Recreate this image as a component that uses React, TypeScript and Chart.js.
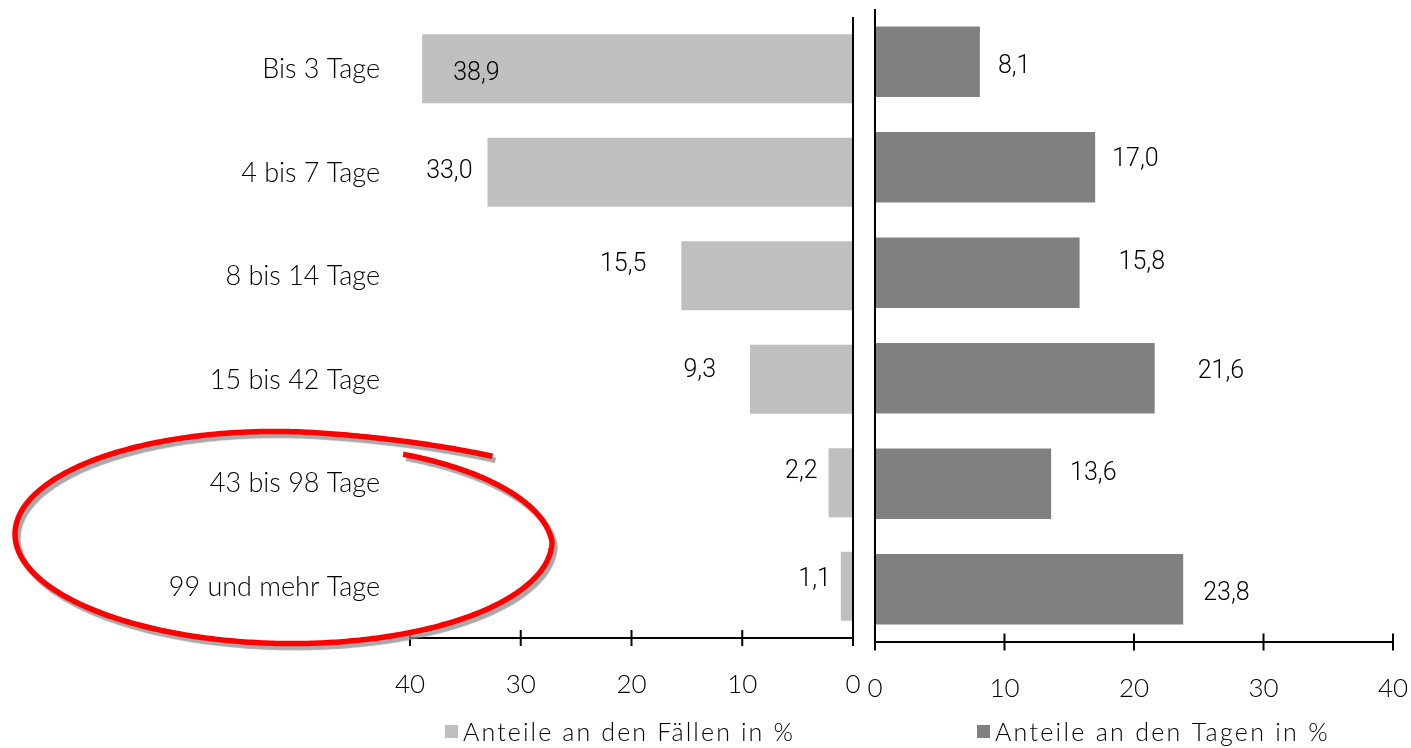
import { useEffect, useRef } from 'react';
import { Chart, registerables } from 'chart.js';

Chart.register(...registerables);

// Dauer der Arbeitsunfähigkeit
const categories = [
  'Bis 3 Tage',
  '4 bis 7 Tage',
  '8 bis 14 Tage',
  '15 bis 42 Tage',
  '43 bis 98 Tage',
  '99 und mehr Tage',
];
// Anteile an den Fällen in %
const faelleShare = [38.9, 33.0, 15.5, 9.3, 2.2, 1.1];
// Anteile an den Tagen in %
const tageShare = [8.1, 17.0, 15.8, 21.6, 13.6, 23.8];
// Werte der Achsenbeschriftung
const axisTicks = [0, 10, 20, 30, 40];

const faelleLegend = 'Anteile an den Fällen in %';
const tageLegend = 'Anteile an den Tagen in %';

// Label placement around the bar tip: gap in px (negative = inside the bar), vertical nudge in px
const faelleLabelGap = [-31, 15, 35, 34, 11, 10];
const faelleLabelDy = [2.5, -3, -13.5, -11, -13.5, -9];
const tageLabelGap = [18, 17, 39, 43, 19, 20];
const tageLabelDy = [2, -10, -13, -9.5, -12.5, 1.5];

const FAELLE_COLOR = '#bfbfbf';
const TAGE_COLOR = '#808080';
const TEXT_FONT = 'Lato, "Open Sans", sans-serif';
const VALUE_FONT = 'Roboto, "Noto Sans", sans-serif';

const fmt = (v: number) => v.toFixed(1).replace('.', ',');

function drawAxes(chart: any, tickHalf: number) {
  const { ctx, chartArea } = chart;
  const xs = chart.scales.x;
  const zeroX = xs.getPixelForValue(0);
  const y = chartArea.bottom;
  ctx.save();
  ctx.strokeStyle = '#000';
  ctx.lineWidth = 2;
  ctx.beginPath();
  // value axis
  ctx.moveTo(xs.getPixelForValue(40), y);
  ctx.lineTo(zeroX, y);
  // category axis
  ctx.moveTo(zeroX, chartArea.top);
  ctx.lineTo(zeroX, y + tickHalf);
  // tick marks crossing the axis
  axisTicks.forEach((v) => {
    const px = xs.getPixelForValue(v);
    ctx.moveTo(px, y - tickHalf);
    ctx.lineTo(px, y + tickHalf);
  });
  ctx.stroke();
  ctx.restore();
}

function drawLegend(chart: any, text: string, color: string, x: number, yc: number, targetWidth: number) {
  const { ctx } = chart;
  ctx.save();
  ctx.fillStyle = color;
  ctx.fillRect(x, yc - 6.5, 13, 13);
  ctx.font = `300 25px ${TEXT_FONT}`;
  (ctx as any).letterSpacing = '0px';
  const natural = ctx.measureText(text).width;
  const spacing = Math.max(0, (targetWidth - natural) / text.length);
  (ctx as any).letterSpacing = `${spacing}px`;
  ctx.fillStyle = '#000';
  ctx.textAlign = 'left';
  ctx.textBaseline = 'alphabetic';
  ctx.fillText(text, x + 18, yc + 9);
  ctx.restore();
}

function drawValueLabels(chart: any, values: number[], gaps: number[], dys: number[], leftward: boolean) {
  const { ctx } = chart;
  const meta = chart.getDatasetMeta(0);
  ctx.save();
  ctx.font = `300 25px ${VALUE_FONT}`;
  ctx.fillStyle = '#000';
  ctx.textBaseline = 'alphabetic';
  meta.data.forEach((bar: any, i: number) => {
    const tip = bar.x;
    const base = bar.y + dys[i] + 9;
    const gap = gaps[i];
    const label = fmt(values[i]);
    if (leftward) {
      ctx.textAlign = gap < 0 ? 'left' : 'right';
      ctx.fillText(label, tip - gap, base);
    } else {
      ctx.textAlign = 'left';
      ctx.fillText(label, tip + gap, base);
    }
  });
  ctx.restore();
}

// Hand-drawn red loop with a soft grey drop shadow
function drawLoop(ctx: CanvasRenderingContext2D) {
  const cx = 283.5;
  const cy = 537.5;
  const rx = 268.5;
  const ry = 106;
  const rot = 0.015;
  const d2r = Math.PI / 180;
  const startDeg = -61.2;
  const endDeg = 360 - 45.8;
  const steps = 500;
  ctx.save();
  ctx.beginPath();
  for (let i = 0; i <= steps; i++) {
    const deg = startDeg + ((endDeg - startDeg) * i) / steps;
    let f = 1;
    if (deg < 0) f = 1 - 0.085 * (-deg / 61.2);
    const tail = deg - 278;
    if (tail > 0) f = 1 + 0.11 * Math.pow(tail / 36.2, 2);
    const phi = deg * d2r;
    const ex = f * rx * Math.cos(phi);
    const ey = f * ry * Math.sin(phi);
    const px = cx + ex * Math.cos(rot) - ey * Math.sin(rot);
    const py = cy + ex * Math.sin(rot) + ey * Math.cos(rot);
    if (i === 0) ctx.moveTo(px, py);
    else ctx.lineTo(px, py);
  }
  ctx.lineWidth = 5.5;
  ctx.lineCap = 'butt';
  ctx.lineJoin = 'round';
  ctx.strokeStyle = '#ff0000';
  ctx.shadowColor = 'rgba(140,140,140,0.75)';
  ctx.shadowOffsetX = 3;
  ctx.shadowOffsetY = 4;
  ctx.shadowBlur = 1;
  ctx.stroke();
  ctx.restore();
}

const leftDecor = {
  id: 'leftDecor',
  afterDraw(chart: any) {
    const { ctx, chartArea } = chart;
    drawAxes(chart, 8);
    // category names
    const ys = chart.scales.y;
    ctx.save();
    ctx.font = `300 27px ${TEXT_FONT}`;
    ctx.fillStyle = '#000';
    ctx.textAlign = 'right';
    ctx.textBaseline = 'alphabetic';
    categories.forEach((c, i) => {
      ctx.fillText(c, chartArea.left - 30, ys.getPixelForValue(i) + 9.7);
    });
    ctx.restore();
    drawValueLabels(chart, faelleShare, faelleLabelGap, faelleLabelDy, true);
    drawLegend(chart, faelleLegend, FAELLE_COLOR, 445, 731.5, 332);
    drawLoop(ctx);
  },
};

const rightDecor = {
  id: 'rightDecor',
  afterDraw(chart: any) {
    drawAxes(chart, 8.5);
    drawValueLabels(chart, tageShare, tageLabelGap, tageLabelDy, false);
    drawLegend(chart, tageLegend, TAGE_COLOR, 977 - 864, 731.5, 335);
  },
};

function buildOptions(reverse: boolean, padding: any) {
  return {
    indexAxis: 'y' as const,
    responsive: false,
    animation: false as const,
    layout: { padding },
    plugins: { legend: { display: false }, tooltip: { enabled: false } },
    scales: {
      x: {
        reverse,
        min: 0,
        max: 40,
        afterBuildTicks: (s: any) => {
          s.ticks = axisTicks.map((v) => ({ value: v }));
        },
        ticks: {
          font: { family: TEXT_FONT, size: 26, weight: '300' },
          color: '#000',
          padding: 0,
          maxRotation: 0,
          autoSkip: false,
        },
        // tick marks are drawn by the plugin; the tick length only offsets the labels
        grid: { display: false, drawTicks: true, tickLength: 31 },
        border: { display: false },
        afterFit: (s: any) => {
          s.height = 60;
        },
      },
      y: { display: false },
    },
  };
}

export default function App() {
  const leftRef = useRef<HTMLCanvasElement>(null);
  const rightRef = useRef<HTMLCanvasElement>(null);

  useEffect(() => {
    const left = new Chart(leftRef.current!, {
      type: 'bar',
      data: {
        labels: categories,
        datasets: [
          {
            label: faelleLegend,
            data: faelleShare,
            backgroundColor: FAELLE_COLOR,
            categoryPercentage: 1,
            barPercentage: 0.667,
          },
        ],
      },
      options: buildOptions(true, { left: 410, right: 11, top: 17, bottom: 50 }) as any,
      plugins: [leftDecor],
    });
    const right = new Chart(rightRef.current!, {
      type: 'bar',
      data: {
        labels: categories,
        datasets: [
          {
            label: tageLegend,
            data: tageShare,
            backgroundColor: TAGE_COLOR,
            categoryPercentage: 1,
            barPercentage: 0.667,
          },
        ],
      },
      options: buildOptions(false, { left: 11, right: 18, top: 9, bottom: 46 }) as any,
      plugins: [rightDecor],
    });
    return () => {
      left.destroy();
      right.destroy();
    };
  }, []);

  return (
    <div
      style={{
        position: 'fixed',
        left: 0,
        top: 0,
        width: 1411,
        height: 748,
        background: '#fff',
        overflow: 'hidden',
      }}
    >
      <canvas
        ref={leftRef}
        width={864}
        height={748}
        style={{ position: 'absolute', left: 0, top: 0, width: 864, height: 748 }}
      />
      <canvas
        ref={rightRef}
        width={547}
        height={748}
        style={{ position: 'absolute', left: 864, top: 0, width: 547, height: 748 }}
      />
    </div>
  );
}
